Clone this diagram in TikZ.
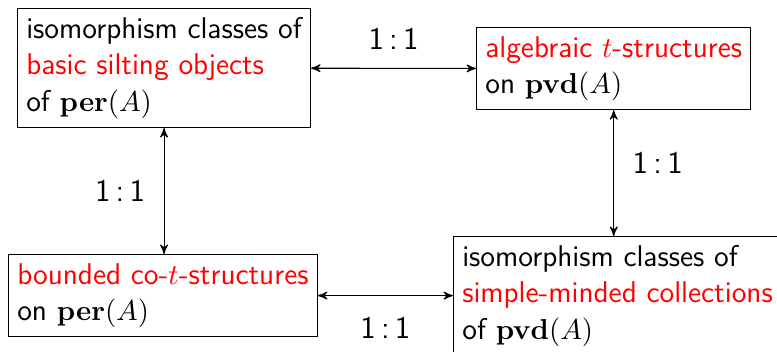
\documentclass[tikz,border=0pt]{standalone}
\usepackage{amsmath}
\usepackage{amssymb}
\usepackage{xcolor}
\usepackage{tikz}
\usetikzlibrary{arrows}
\usetikzlibrary{positioning}

\begin{document}
\begin{tikzpicture}[x=0.38pt, y=-0.38pt, thin]
 	  \tikzstyle{box}=[draw, rectangle, align=left, font=\sffamily\fontsize{11.4pt}{13.9pt}\selectfont]
 	  \tikzstyle{ratio}=[font=\sffamily\fontsize{12pt}{14pt}\selectfont, inner sep=6pt]
\useasboundingbox (0,0) rectangle (777,352);
    \node[box, anchor=north west] (silt) at (17,8)
      {isomorphism classes of\\ \textcolor{red}{basic silting objects}\\ of $\mathbf{per}(A)$};
    \node[box, anchor=north west] (tstr) at (476,27)
      {\textcolor{red}{algebraic $t$-structures}\\ on $\mathbf{pvd}(A)$};
    \node[box, anchor=north west] (cotstr) at (8,254)
      {\textcolor{red}{bounded co-$t$-structures}\\ on $\mathbf{per}(A)$};
    \node[box, anchor=north west] (smc) at (453,236)
      {isomorphism classes of\\ \textcolor{red}{simple-minded collections}\\ of $\mathbf{pvd}(A)$};
\draw[<->, >=stealth'] (silt) -- node[ratio, above=1pt] {1\,:\,1} (tstr);
\draw[<->, >=stealth'] (silt.south) -- node[ratio, left=1pt] {1\,:\,1} (silt.south |- cotstr.north);
\draw[<->, >=stealth'] (tstr.south) -- node[ratio, right=1pt, pos=.42] {1\,:\,1} (tstr.south |- smc.north);
\draw[<->, >=stealth'] (cotstr) -- node[ratio, below=2pt] {1\,:\,1} (cotstr -| smc.west);
   \end{tikzpicture}
\end{document}
